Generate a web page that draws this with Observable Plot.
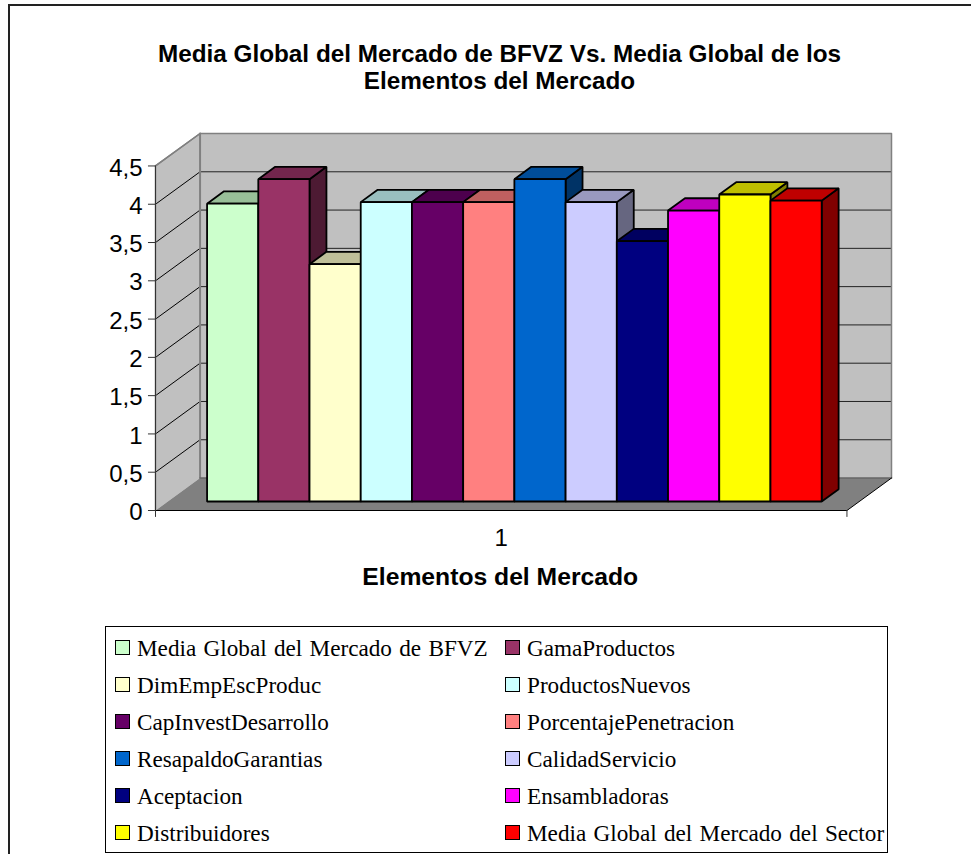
<!DOCTYPE html>
<html lang="es">
<head>
<meta charset="utf-8">
<script src="https://cdn.jsdelivr.net/npm/d3@7"></script>
<script src="https://cdn.jsdelivr.net/npm/@observablehq/plot@0.6"></script>
<style>
  html, body { margin: 0; padding: 0; background: #fff; overflow: hidden; }
  #page { position: relative; width: 971px; height: 854px; overflow: hidden; }
  #frame { position: absolute; left: 8px; top: 4px; width: 1000px; height: 900px; border: 2px solid #222; }
  #title { position: absolute; left: 0; width: 999px; top: 40px; text-align: center;
           font: bold 24.3px/27px "Liberation Sans", Arial, sans-serif; color: #000; }
  #chart { position: absolute; left: 0; top: 100px; }
  #chart svg { display: block; }
  #legend { position: absolute; left: 105px; top: 626px; width: 781px; height: 225px;
            border: 1.5px solid #000; background: #fff; }
  .item { position: absolute; white-space: nowrap; font: 23.2px/24px "Liberation Serif", "Times New Roman", serif;
          word-spacing: 1.5px; color: #000; }
  .item i { position: absolute; left: -22px; top: 4px; width: 13px; height: 13px; border: 1.5px solid #000; box-sizing: content-box; }
</style>
</head>
<body>
<div id="page">
  <div id="frame"></div>
  <div id="title">Media Global del Mercado de BFVZ Vs. Media Global de los<br>Elementos del Mercado</div>
  <div id="chart"></div>
  <div id="legend"></div>
</div>
<script>
// Series of the single category, in drawing order
const series = [
  "Media Global del Mercado de BFVZ", "GamaProductos", "DimEmpEscProduc", "ProductosNuevos",
  "CapInvestDesarrollo", "PorcentajePenetracion", "ResapaldoGarantias", "CalidadServicio",
  "Aceptacion", "Ensambladoras", "Distribuidores", "Media Global del Mercado del Sector"
];
const values = [3.89, 4.21, 3.10, 3.91, 3.91, 3.91, 4.21, 3.91, 3.40, 3.80, 4.01, 3.93];
const colors = [
  "#CCFFCC", "#993366", "#FFFFCC", "#CCFFFF", "#660066", "#FF8080",
  "#0066CC", "#CCCCFF", "#000080", "#FF00FF", "#FFFF00", "#FF0000"
];
const yTicks = [0, 0.5, 1, 1.5, 2, 2.5, 3, 3.5, 4, 4.5];
const categoryLabel = "1";
const xTitle = "Elementos del Mercado";

// Oblique box geometry, in data units: x counts bar widths, y is the value axis
const floorWidth = 13.5, yMax = 4.5;
const depthX = 0.87, depthY = 0.424;       // full depth of the chart box
const barStart = 0.766, barDepthAt = 0.277, barDepth = 0.38; // bar placement inside the box
const project = (x, y, d) => ({x: x + d * depthX, y: y + d * depthY});

const shade = (c, k) => {
  const {r, g, b} = d3.rgb(c);
  return d3.rgb(r * k, g * k, b * k).formatHex();
};
const poly = (id, fill, pts) => pts.map((p) => ({id, fill, ...p}));

// Box walls and floor
const walls = [
  ...poly("left", "#C0C0C0", [project(0, 0, 0), project(0, 0, 1), project(0, yMax, 1), project(0, yMax, 0)]),
  ...poly("back", "#C0C0C0", [project(0, 0, 1), project(floorWidth, 0, 1), project(floorWidth, yMax, 1), project(0, yMax, 1)])
];
const floor = poly("floor", "#808080", [project(0, 0, 0), project(floorWidth, 0, 0), project(floorWidth, 0, 1), project(0, 0, 1)]);

// Bars are painted left to right: side, top, then front
const barFaces = values.flatMap((v, i) => {
  const x0 = barStart + i, x1 = x0 + 1;
  const d0 = barDepthAt, d1 = barDepthAt + barDepth;
  return [
    ...poly(`s${i}`, shade(colors[i], 0.5), [project(x1, 0, d0), project(x1, 0, d1), project(x1, v, d1), project(x1, v, d0)]),
    ...poly(`t${i}`, shade(colors[i], 0.75), [project(x0, v, d0), project(x1, v, d0), project(x1, v, d1), project(x0, v, d1)]),
    ...poly(`f${i}`, colors[i], [project(x0, 0, d0), project(x1, 0, d0), project(x1, v, d0), project(x0, v, d0)])
  ];
});

const commaFormat = (d) => String(d).replace(".", ",");
const innerGrid = yTicks.filter((v) => v > 0 && v < yMax);

const chart = Plot.plot({
  width: 971,
  height: 500,
  marginLeft: 155,
  marginRight: 80,
  marginTop: 33,
  marginBottom: 90,
  x: {domain: [0, floorWidth + depthX], axis: null},
  y: {domain: [0, yMax + depthY], axis: null},
  style: {background: "transparent", overflow: "visible"},
  marks: [
    Plot.line(walls, {x: "x", y: "y", z: "id", fill: "fill", stroke: "none", curve: "linear-closed"}),
    // Gridlines run across the left wall and along the back wall
    Plot.link(innerGrid, {
      x1: () => 0, y1: (v) => v,
      x2: () => depthX, y2: (v) => v + depthY,
      stroke: "#000", strokeWidth: 1
    }),
    Plot.link(innerGrid, {
      x1: () => depthX, y1: (v) => v + depthY,
      x2: () => floorWidth + depthX, y2: (v) => v + depthY,
      stroke: "#222", strokeWidth: 1
    }),
    // Wall outlines
    Plot.line(
      [project(0, yMax, 0), project(0, yMax, 1), project(floorWidth, yMax, 1), project(floorWidth, 0, 1)],
      {x: "x", y: "y", stroke: "#808080", strokeWidth: 1.5}
    ),
    Plot.line([project(0, 0, 0), project(0, yMax, 0), project(0, yMax, 1)], {x: "x", y: "y", stroke: "#808080", strokeWidth: 1.5}),
    Plot.line([project(0, 0, 1), project(0, yMax, 1)], {x: "x", y: "y", stroke: "#808080", strokeWidth: 2}),
    Plot.line(floor, {x: "x", y: "y", z: "id", fill: "fill", stroke: "none", curve: "linear-closed"}),
    Plot.line([project(0, 0, 1), project(floorWidth, 0, 1)], {x: "x", y: "y", stroke: "#666", strokeWidth: 1.5}),
    // Front edges of the floor and the value axis line
    Plot.line(
      [project(0, 0, 0), project(floorWidth, 0, 0), project(floorWidth, 0, 1)],
      {x: "x", y: "y", stroke: "#000", strokeWidth: 1}
    ),
    Plot.ruleX([0], {y1: 0, y2: yMax, stroke: "#333", strokeWidth: 1}),
    Plot.line(barFaces, {
      x: "x", y: "y", z: "id", fill: "fill", stroke: "#000", strokeWidth: 1.8,
      curve: "linear-closed", strokeLinejoin: "miter"
    }),
    Plot.axisY(yTicks, {
      anchor: "left",
      tickSize: 0,
      tickPadding: 13,
      dy: 2,
      tickFormat: commaFormat,
      label: null,
      fontSize: 24,
      fontFamily: "Liberation Sans, Arial, sans-serif",
      fill: "#000"
    }),
    // Short ticks beside the value axis and below both ends of the category axis
    Plot.ruleY(yTicks, {x1: 0, x2: -0.137, stroke: "#333", strokeWidth: 1}),
    Plot.ruleX([0, floorWidth], {y1: 0, y2: -0.09, stroke: "#333", strokeWidth: 1}),
    Plot.text([floorWidth / 2], {
      x: (d) => d, y: () => 0, text: () => categoryLabel, dy: 28,
      fontSize: 24, fontFamily: "Liberation Sans, Arial, sans-serif", fill: "#000"
    }),
    Plot.text([floorWidth / 2], {
      x: (d) => d, y: () => 0, text: () => xTitle, dy: 67, dx: -1,
      fontSize: 24.7, fontWeight: "bold", fontFamily: "Liberation Sans, Arial, sans-serif", fill: "#000"
    })
  ]
});
document.getElementById("chart").append(chart);

// Two-column key, row by row
const legend = document.getElementById("legend");
series.forEach((name, i) => {
  const row = Math.floor(i / 2), col = i % 2;
  const item = document.createElement("div");
  item.className = "item";
  item.style.left = (col ? 421 : 31) + "px";
  item.style.top = (9 + row * 37) + "px";
  item.textContent = name;
  const swatch = document.createElement("i");
  swatch.style.background = colors[i];
  item.prepend(swatch);
  legend.append(item);
});
</script>
</body>
</html>
